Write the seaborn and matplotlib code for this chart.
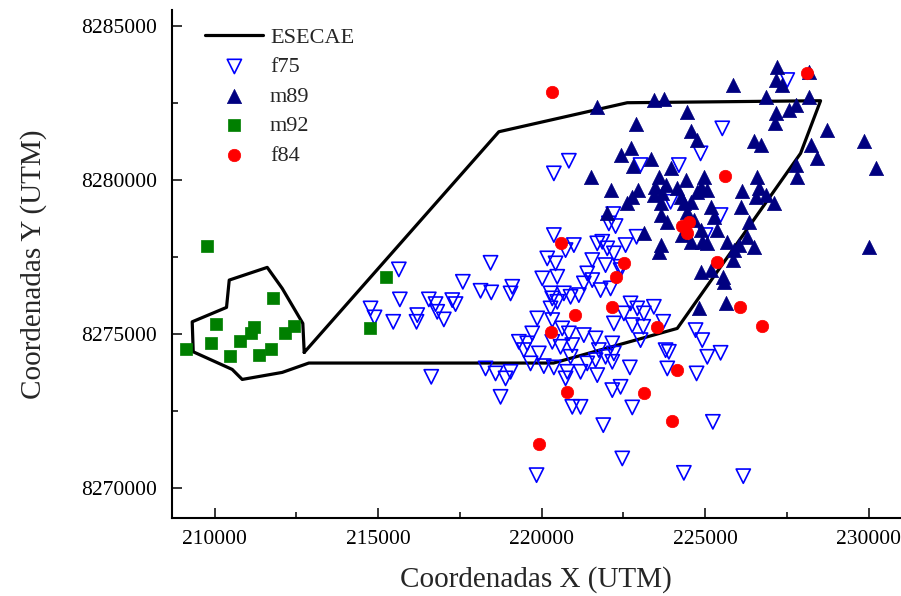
import matplotlib
matplotlib.use("Agg")
import matplotlib.pyplot as plt
import seaborn as sns
import numpy as np
from matplotlib.ticker import MultipleLocator, FuncFormatter

# ---------------- data ----------------
esecae_x = [212743, 218694, 222620, 228531, 227920, 224149, 220367, 212884,
            212070, 210847, 210541, 209349, 209318, 210367, 210450, 211612,
            212070, 212700, 212743]
esecae_y = [8274405, 8281568, 8282510, 8282575, 8280867, 8275184, 8274060, 8274060,
            8273756, 8273528, 8273853, 8274425, 8275399, 8275866, 8276753, 8277165,
            8276483, 8275347, 8274405]

f75_x = [215636, 218440, 217593, 218134, 218462, 219104, 219052, 215667, 214771, 214893,
         215465, 216199, 216177, 216553, 216758, 216810, 217012, 217269, 217370, 216627,
         218287, 218593, 218899, 219052, 218746, 219306,
         227513, 225526, 224862, 224198, 223027, 220835, 220376, 223945, 222192, 222058,
         222263, 222905, 225015, 225474, 220376, 220988, 220734, 221703, 222009, 222211,
         222569, 220174, 220428, 221550, 221957, 222416, 220021, 220480, 221397, 221550,
         221293, 221804, 222110, 220275, 220682, 221140, 220327, 220480, 220887, 220275,
         219868, 220327, 220633, 220835, 221293, 221651, 219715, 222721, 222926, 223434,
         223128, 222517, 222211, 222773, 223110, 223721, 223027, 224709, 224914, 225474,
         225067, 223792, 223893, 219562, 219458, 219917, 222162, 222211, 221752, 221856,
         222416,
         220887, 219663, 220070, 220376, 220786, 221192, 221703, 220734, 221651, 221957,
         222162, 220327, 220581, 220939, 222700, 222416, 222162, 222773, 220939, 221192,
         221887, 223844, 224740, 225238, 222468, 224351, 226168, 219847, 221397]
f75_y = [8277100, 8277314, 8276697, 8276405, 8276353, 8276535, 8276320, 8276126, 8275833, 8275541,
         8275398, 8275616, 8275398, 8276126, 8275973, 8275723, 8275476, 8276103, 8275973, 8273613,
         8273885, 8273723, 8273561, 8273775, 8272963, 8274749,
         8283246, 8281678, 8280866, 8280486, 8280486, 8280626, 8280217, 8279295, 8278895, 8278593,
         8278506, 8278158, 8278214, 8278863, 8278214, 8277889, 8277726, 8277944, 8277782, 8277619,
         8277889, 8277457, 8277295, 8277402, 8277239, 8277184, 8276808, 8276860, 8276970, 8276752,
         8276645, 8276428, 8276483, 8276321, 8276321, 8276265, 8276158, 8276048, 8276210, 8275833,
         8275509, 8275454, 8275184, 8275022, 8274967, 8274860, 8275022, 8275996, 8275833, 8275885,
         8275671, 8275671, 8275346, 8275291, 8275236, 8275398, 8274804, 8275129, 8274804, 8274392,
         8274262, 8274478, 8274424, 8274697, 8274480, 8274372, 8274697, 8274372, 8274480, 8277996,
         8277077,
         8274262, 8274048, 8273960, 8273918, 8273775, 8273775, 8273668, 8273561, 8274155, 8274262,
         8274100, 8274749, 8274587, 8274642, 8273918, 8273288, 8273181, 8272619, 8272638, 8272638,
         8272044, 8273885, 8273723, 8272151, 8270963, 8270495, 8270388, 8270421, 8274048]

m89_x = [227208, 227156, 227360, 228174, 225850, 226850, 228174, 227767, 227562, 227156,
         227134, 223434, 223740, 221682, 224455, 222874, 228715, 224556, 224761, 226492,
         226697, 228226, 229856, 222743, 222416, 222804, 223354, 223945, 227767, 228409,
         230214, 227819, 221498, 223587, 223455, 223792, 224403, 224963, 226596, 222131,
         222945, 222773, 222620, 223434, 223691, 224149, 224250, 224761, 225067, 226137,
         226645, 226850, 227104, 222009, 223639, 224351, 224455, 225168, 226085, 223639,
         223844, 224657, 225269, 225373, 226339, 223128, 225678, 226290, 226492, 226033,
         223639, 223587, 224556, 224914, 224862, 225168, 225850, 225575, 230009, 224810,
         225627, 224862, 224556, 224862, 224302, 225067, 225880, 225556, 226544]
m89_y = [8283678, 8283246, 8283084, 8283516, 8283084, 8282704, 8282704, 8282435, 8282272, 8282165,
         8281860, 8282597, 8282620, 8282380, 8282217, 8281818, 8281623, 8281600, 8281298, 8281276,
         8281136, 8281136, 8281276, 8281029, 8280811, 8280454, 8280672, 8280379, 8280486, 8280704,
         8280379, 8280107, 8280087, 8280107, 8279782, 8279837, 8279999, 8280107, 8280107, 8279675,
         8279675, 8279457, 8279243, 8279512, 8279568, 8279730, 8279457, 8279620, 8279675, 8279652,
         8279730, 8279512, 8279262, 8278918, 8279243, 8279243, 8278970, 8279132, 8279132, 8278863,
         8278645, 8278701, 8278808, 8278376, 8278645, 8278269, 8277996, 8278158, 8277834, 8277889,
         8277889, 8277671, 8277996, 8277996, 8277022, 8277077, 8277402, 8276697, 8277834, 8275833,
         8275996, 8279782, 8279295, 8278376, 8278214, 8277944, 8277726, 8276860, 8279457]

m92_x = [209756, 215229, 211783, 210031, 211202, 211101, 212425, 212150, 210774, 209878,
         214749, 209113, 210468, 211355, 211713]
m92_y = [8277866, 8276860, 8276178, 8275314, 8275217, 8275041, 8275259, 8275022, 8274762, 8274717,
         8275184, 8274502, 8274285, 8274327, 8274502]

f84_x = [220327, 228103, 225605, 224302, 224504, 224434, 220581, 222516, 222263, 225373,
         222140, 221018, 220275, 223516, 226055, 226749, 224128, 223128, 220764, 223997, 219929]
f84_y = [8282867, 8283464, 8280129, 8278515, 8278645, 8278288, 8277964, 8277295, 8276860, 8277327,
         8275885, 8275616, 8275074, 8275236, 8275885, 8275259, 8273830, 8273074, 8273106, 8272184,
         8271418]

x_ticks = [210000, 215000, 220000, 225000, 230000]
y_ticks = [8270000, 8275000, 8280000, 8285000]

# ---------------- style ----------------
sns.set_style("ticks")
plt.rcParams["font.family"] = ["Liberation Serif", "DejaVu Serif"]

fig = plt.figure(figsize=(9.01, 5.96), dpi=100)
ax = fig.add_axes([172 / 901, 78 / 596, 728 / 901, 508 / 596])

sns.lineplot(x=esecae_x, y=esecae_y, sort=False, estimator=None, color="black",
             linewidth=2.3, label="ESECAE", ax=ax, zorder=0.9, legend=False)
sns.scatterplot(x=f75_x, y=f75_y, marker="v", s=105, facecolors="none",
                edgecolor="#0000ff", linewidth=1.2, label="f75", ax=ax, legend=False)
sns.scatterplot(x=m89_x, y=m89_y, marker="^", s=105, color="#000080",
                edgecolor="#000080", linewidth=0.5, label="m89", ax=ax, legend=False)
sns.scatterplot(x=m92_x, y=m92_y, marker="s", s=75, color="#007f00",
                edgecolor="#007f00", linewidth=0.5, label="m92", ax=ax, legend=False)
sns.scatterplot(x=f84_x, y=f84_y, marker="o", s=80, color="#ff0000",
                edgecolor="#ff0000", linewidth=0.5, label="f84", ax=ax, legend=False)

ax.set_xlim(208700, 230960)
ax.set_ylim(8269030, 8285520)
ax.set_xticks(x_ticks)
ax.set_yticks(y_ticks)
ax.xaxis.set_minor_locator(MultipleLocator(2500))
ax.yaxis.set_minor_locator(MultipleLocator(2500))
fmt = FuncFormatter(lambda v, p: f"{int(round(v))}")
ax.xaxis.set_major_formatter(fmt)
ax.yaxis.set_major_formatter(fmt)

ax.tick_params(which="major", direction="in", length=7.5, width=1.1,
               labelsize=15.5, colors="black", pad=9)
ax.tick_params(which="minor", direction="in", length=4, width=1.1, colors="black")
ax.tick_params(axis="y", which="major", pad=11)

for side in ["top", "right"]:
    ax.spines[side].set_visible(False)
for side in ["left", "bottom"]:
    ax.spines[side].set_linewidth(1.5)
    ax.spines[side].set_color("black")

ax.set_xlabel("Coordenadas X (UTM)", fontsize=21, labelpad=12)
ax.set_ylabel("Coordenadas Y (UTM)", fontsize=21, labelpad=24)

handles, labels = ax.get_legend_handles_labels()
order = ["ESECAE", "f75", "m89", "m92", "f84"]
hmap = dict(zip(labels, handles))
ax.legend([hmap[k] for k in order], order, loc="upper left",
          bbox_to_anchor=(0.046, 0.966), frameon=False, fontsize=16,
          handlelength=2.6, handletextpad=0.3, labelspacing=0.4,
          borderpad=0, borderaxespad=0)

fig.savefig("out.png", dpi=100)
